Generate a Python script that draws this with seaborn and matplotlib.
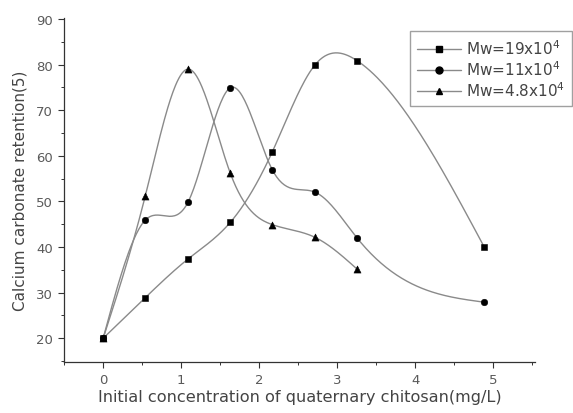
import numpy as np
import pandas as pd
import matplotlib
matplotlib.use("Agg")
import matplotlib.pyplot as plt
from matplotlib.lines import Line2D
from matplotlib.ticker import MultipleLocator
import seaborn as sns

# ---- data ----
conc = [0, 0.54, 1.09, 1.63, 2.17, 2.72, 3.26, 4.89]
mw19 = [20, 28.9, 37.4, 45.4, 60.9, 80.0, 80.8, 39.9]
mw11 = [20, 45.9, 49.9, 74.9, 56.9, 52.0, 41.9, 27.9]
conc48 = [0, 0.54, 1.09, 1.63, 2.17, 2.72, 3.26]
mw48 = [20, 51.2, 79.0, 56.2, 44.9, 42.1, 35.1]
labels = ["Mw=19x10$^4$", "Mw=11x10$^4$", "Mw=4.8x10$^4$"]
markers = ["s", "o", "^"]
xticks = [0, 1, 2, 3, 4, 5]
yticks = [20, 30, 40, 50, 60, 70, 80, 90]


def natural_spline(x, y, n=300):
    x = np.asarray(x, float); y = np.asarray(y, float)
    k = len(x); h = np.diff(x)
    A = np.zeros((k, k)); r = np.zeros(k)
    A[0, 0] = A[-1, -1] = 1
    for i in range(1, k - 1):
        A[i, i - 1] = h[i - 1]; A[i, i] = 2 * (h[i - 1] + h[i]); A[i, i + 1] = h[i]
        r[i] = 6 * ((y[i + 1] - y[i]) / h[i] - (y[i] - y[i - 1]) / h[i - 1])
    M = np.linalg.solve(A, r)
    xs = np.linspace(x[0], x[-1], n)
    idx = np.clip(np.searchsorted(x, xs) - 1, 0, k - 2)
    x0, x1 = x[idx], x[idx + 1]; hh = x1 - x0
    ys = (M[idx] * (x1 - xs) ** 3 / (6 * hh) + M[idx + 1] * (xs - x0) ** 3 / (6 * hh)
          + (y[idx] / hh - M[idx] * hh / 6) * (x1 - xs)
          + (y[idx + 1] / hh - M[idx + 1] * hh / 6) * (xs - x0))
    return xs, ys


sns.set_style("ticks")
plt.rcParams['font.family'] = ['DejaVu Sans']

fig = plt.figure(figsize=(5.73, 4.14), dpi=100)
ax = fig.add_axes([0.112, 0.1232, 0.822, 0.8309])

series = [(conc, mw19), (conc, mw11), (conc48, mw48)]
handles = []
for (xv, yv), lab, mk in zip(series, labels, markers):
    xs, ys = natural_spline(xv, yv)
    sns.lineplot(x=xs, y=ys, ax=ax, color="#8a8a8a", lw=1.0, legend=False, sort=False)
    sns.scatterplot(x=xv, y=yv, ax=ax, marker=mk, color="black",
                    s=22 if mk != "^" else 26,
                    edgecolor="black", linewidth=0.4, legend=False, zorder=3)
    handles.append(Line2D([], [], color="#8a8a8a", lw=1.0, marker=mk,
                          markerfacecolor="black", markeredgecolor="black",
                          markersize=5, label=lab))

ax.set_xlim(-0.5, 5.54)
ax.set_ylim(14.8, 90.2)
ax.set_xticks(xticks)
ax.set_yticks(yticks)
ax.xaxis.set_minor_locator(MultipleLocator(0.5))
ax.yaxis.set_minor_locator(MultipleLocator(5))
ax.tick_params(axis="both", which="major", direction="out", length=4, width=0.8,
               labelsize=9.5, colors="#333333", labelcolor="#5a5a5a", pad=4)
ax.tick_params(axis="both", which="minor", direction="out", length=2.5, width=0.7,
               colors="#333333")
for s in ["top", "right"]:
    ax.spines[s].set_visible(False)
for s in ["left", "bottom"]:
    ax.spines[s].set_linewidth(0.9)
    ax.spines[s].set_color("#333333")

ax.set_xlabel("Initial concentration of quaternary chitosan(mg/L)", fontsize=11.6,
              color="#444444", labelpad=2)
ax.set_ylabel("Calcium carbonate retention(5)", fontsize=11, color="#444444",
              labelpad=6)

leg = ax.legend(handles=handles, loc="upper left", bbox_to_anchor=(0.7155, 0.922),
                bbox_transform=fig.transFigure, frameon=True, fancybox=False,
                fontsize=11, handlelength=2.9, borderpad=0.45, labelspacing=0.15,
                handletextpad=0.3, borderaxespad=0)
leg.get_frame().set_edgecolor("#888888")
leg.get_frame().set_linewidth(1.0)
for t in leg.get_texts():
    t.set_color("#444444")

fig.savefig("out.png", dpi=100)
